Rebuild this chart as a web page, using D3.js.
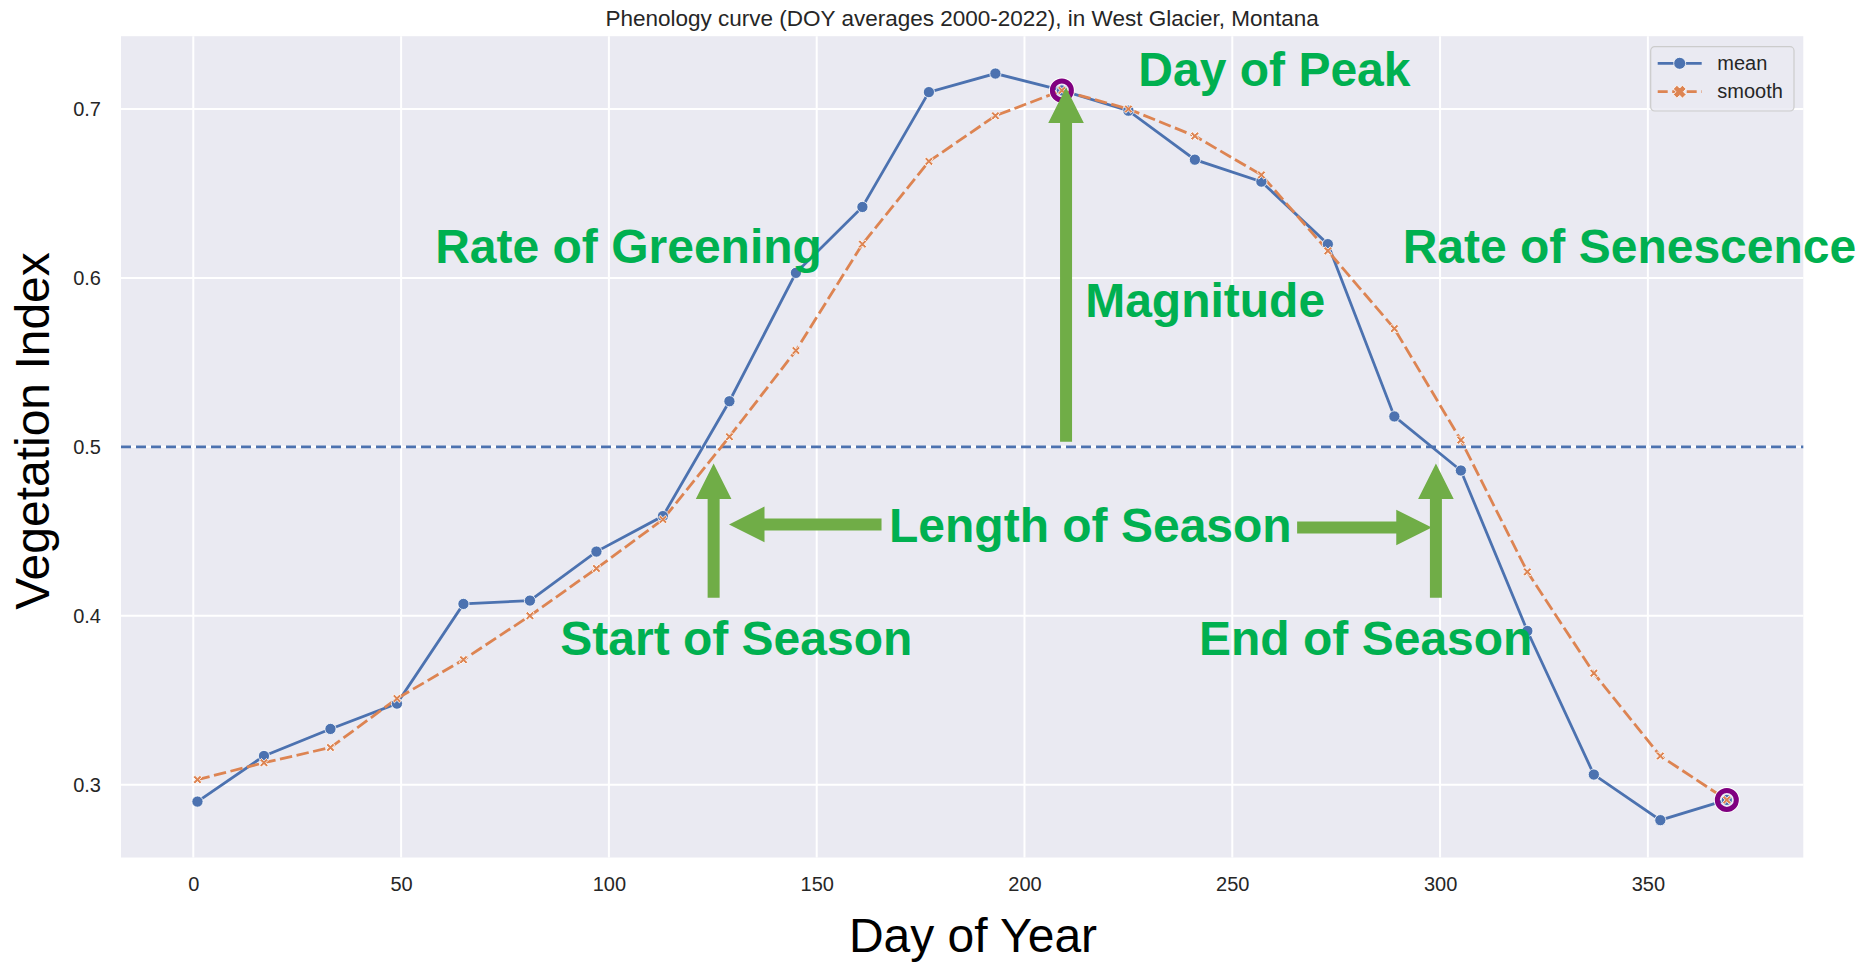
<!DOCTYPE html>
<html lang="en">
<head>
<meta charset="UTF-8">
<script src="https://d3js.org/d3.v7.min.js"></script>
<title>Phenology curve</title>
<style>
    body {
        margin: 0;
        overflow: hidden;
        background: white;
    }
    text {
        font-family: "Liberation Sans", Arial, sans-serif;
    }
</style>
</head>
<body>
<script>
    const width = 1862,
          height = 963;

    // values
    const doy = [1, 17, 33, 49, 65, 81, 97, 113, 129, 145, 161, 177,
                 193, 209, 225, 241, 257, 273, 289, 305, 321, 337, 353, 369];
    const meanValues = [0.290, 0.317, 0.333, 0.348, 0.407, 0.409, 0.438, 0.459,
                        0.527, 0.603, 0.642, 0.710, 0.721, 0.711, 0.699, 0.670,
                        0.657, 0.620, 0.518, 0.486, 0.391, 0.306, 0.279, 0.291];
    const smoothValues = [0.303, 0.313, 0.322, 0.351, 0.374, 0.400, 0.428, 0.457,
                          0.506, 0.557, 0.620, 0.669, 0.696, 0.711, 0.700, 0.684,
                          0.661, 0.616, 0.570, 0.504, 0.426, 0.366, 0.317, 0.291];
    const xTickValues = [0, 50, 100, 150, 200, 250, 300, 350];
    const yTickValues = [0.3, 0.4, 0.5, 0.6, 0.7];
    const threshold = 0.5;
    const highlightDays = [209, 369];
    const highlightValues = [0.711, 0.291];
    const seriesNames = ["mean", "smooth"];

    // phenology metrics: label, left x (DOY), baseline (index value)
    const labelText = ["Day of Peak", "Rate of Greening", "Magnitude", "Rate of Senescence",
                       "Length of Season", "Start of Season", "End of Season"];
    const labelDay = [227.4, 58.2, 214.6, 291, 167.4, 88.3, 242];
    const labelValue = [0.7134, 0.6086, 0.577, 0.6086, 0.4438, 0.3768, 0.3768];

    // block arrows: tail -> tip in (DOY, index)
    const arrowFrom = [[210, 0.503], [125.2, 0.4106], [299, 0.4106], [165.6, 0.4541], [265.6, 0.4523]];
    const arrowTo   = [[210, 0.7128], [125.2, 0.4901], [299, 0.4901], [128.9, 0.4541], [298, 0.4523]];

    const blue = "#4c72b0", orange = "#dd8452", green = "#70ad47", textGreen = "#00b050";

    const margin = { top: 36.2, left: 121, right: 58.7, bottom: 105.5 };

    const svg = d3.select('body')
        .append('svg')
        .attr('width', width)
        .attr('height', height);

    const xPad = (d3.max(doy) - d3.min(doy)) * 0.05;
    const x = d3.scaleLinear()
        .domain([d3.min(doy) - xPad, d3.max(doy) + xPad])
        .range([margin.left, width - margin.right]);

    const allVals = meanValues.concat(smoothValues);
    const yPad = (d3.max(allVals) - d3.min(allVals)) * 0.05;
    const y = d3.scaleLinear()
        .domain([d3.min(allVals) - yPad, d3.max(allVals) + yPad])
        .range([height - margin.bottom, margin.top]);

    // plot background
    svg.append('rect')
        .attr('x', margin.left)
        .attr('y', margin.top)
        .attr('width', width - margin.left - margin.right)
        .attr('height', height - margin.top - margin.bottom)
        .attr('fill', '#eaeaf2');

    // grid
    svg.append('g').selectAll('line')
        .data(xTickValues)
        .enter().append('line')
        .attr('x1', d => x(d)).attr('x2', d => x(d))
        .attr('y1', margin.top).attr('y2', height - margin.bottom)
        .attr('stroke', 'white').attr('stroke-width', 2);

    svg.append('g').selectAll('line')
        .data(yTickValues)
        .enter().append('line')
        .attr('x1', margin.left).attr('x2', width - margin.right)
        .attr('y1', d => y(d)).attr('y2', d => y(d))
        .attr('stroke', 'white').attr('stroke-width', 2);

    // axes (labels only)
    const xAxis = svg.append('g')
        .attr('transform', `translate(0, ${height - margin.bottom})`)
        .call(d3.axisBottom(x).tickValues(xTickValues).tickSize(0).tickPadding(19).tickFormat(d3.format('d')));
    const yAxis = svg.append('g')
        .attr('transform', `translate(${margin.left}, 0)`)
        .call(d3.axisLeft(y).tickValues(yTickValues).tickSize(0).tickPadding(20).tickFormat(d3.format('.1f')));
    [xAxis, yAxis].forEach(a => {
        a.select('.domain').remove();
        a.selectAll('.tick text')
            .attr('fill', '#262626')
            .style('font-size', '20px')
            .style('font-family', '"Liberation Sans", Arial, sans-serif');
    });

    // threshold line
    svg.append('line')
        .attr('x1', margin.left).attr('x2', width - margin.right)
        .attr('y1', y(threshold)).attr('y2', y(threshold))
        .attr('stroke', blue)
        .attr('stroke-width', 2.6)
        .attr('stroke-dasharray', '10,5');

    const points = doy.map((d, i) => ({ day: d, mean: meanValues[i], smooth: smoothValues[i] }));

    const meanLine = d3.line().x(d => x(d.day)).y(d => y(d.mean));
    const smoothLine = d3.line().x(d => x(d.day)).y(d => y(d.smooth));

    svg.append('path')
        .datum(points)
        .attr('d', meanLine)
        .attr('fill', 'none')
        .attr('stroke', blue)
        .attr('stroke-width', 2.8);

    svg.append('path')
        .datum(points)
        .attr('d', smoothLine)
        .attr('fill', 'none')
        .attr('stroke', orange)
        .attr('stroke-width', 2.8)
        .attr('stroke-dasharray', '12.5,4.5');

    // X marker shape (plus rotated by 45)
    const xMarker = (a, b) => {
        const p = [[b, a], [b, b], [a, b], [a, -b], [b, -b], [b, -a],
                   [-b, -a], [-b, -b], [-a, -b], [-a, b], [-b, b], [-b, a]];
        return 'M' + p.map(q => q.join(',')).join('L') + 'Z';
    };

    svg.append('g').selectAll('circle')
        .data(points)
        .enter().append('circle')
        .attr('cx', d => x(d.day))
        .attr('cy', d => y(d.mean))
        .attr('r', 5.6)
        .attr('fill', blue)
        .attr('stroke', 'white')
        .attr('stroke-width', 0.8);

    svg.append('g').selectAll('path')
        .data(points)
        .enter().append('path')
        .attr('d', xMarker(4.8, 1.3))
        .attr('transform', d => `translate(${x(d.day)},${y(d.smooth)}) rotate(45)`)
        .attr('fill', orange)
        .attr('stroke', 'white')
        .attr('stroke-width', 0.8);

    // highlighted peak / end points
    const rings = svg.append('g');
    highlightDays.forEach((d, i) => {
        rings.append('circle')
            .attr('cx', x(d)).attr('cy', y(highlightValues[i]))
            .attr('r', 12.3)
            .attr('fill', 'none')
            .attr('stroke', 'white')
            .attr('stroke-width', 1.2);
        rings.append('circle')
            .attr('cx', x(d)).attr('cy', y(highlightValues[i]))
            .attr('r', 9.5)
            .attr('fill', 'none')
            .attr('stroke', 'purple')
            .attr('stroke-width', 5);
    });

    // block arrows
    const blockArrow = (from, to) => {
        const x1 = x(from[0]), y1 = y(from[1]), x2 = x(to[0]), y2 = y(to[1]);
        const len = Math.hypot(x2 - x1, y2 - y1);
        const ux = (x2 - x1) / len, uy = (y2 - y1) / len;
        const nx = -uy, ny = ux;
        const sw = 6, hw = 17.8, hl = 35.5;
        const bx = x2 - ux * hl, by = y2 - uy * hl;
        const p = [
            [x1 + nx * sw, y1 + ny * sw],
            [bx + nx * sw, by + ny * sw],
            [bx + nx * hw, by + ny * hw],
            [x2, y2],
            [bx - nx * hw, by - ny * hw],
            [bx - nx * sw, by - ny * sw],
            [x1 - nx * sw, y1 - ny * sw]
        ];
        return 'M' + p.map(q => q.join(',')).join('L') + 'Z';
    };

    svg.append('g').selectAll('path')
        .data(arrowFrom)
        .enter().append('path')
        .attr('d', (d, i) => blockArrow(d, arrowTo[i]))
        .attr('fill', green);

    // metric labels
    svg.append('g').selectAll('text')
        .data(labelText)
        .enter().append('text')
        .attr('x', (d, i) => x(labelDay[i]))
        .attr('y', (d, i) => y(labelValue[i]))
        .attr('fill', textGreen)
        .style('font-size', '48px')
        .style('font-weight', 'bold')
        .text(d => d);

    // title and axis labels
    svg.append('text')
        .attr('x', (margin.left + width - margin.right) / 2)
        .attr('y', 26)
        .attr('text-anchor', 'middle')
        .attr('fill', '#262626')
        .style('font-size', '22.5px')
        .text('Phenology curve (DOY averages 2000-2022), in West Glacier, Montana');

    svg.append('text')
        .attr('x', 973)
        .attr('y', 952)
        .attr('text-anchor', 'middle')
        .attr('fill', 'black')
        .style('font-size', '48px')
        .text('Day of Year');

    svg.append('text')
        .attr('transform', 'translate(49, 431) rotate(-90)')
        .attr('text-anchor', 'middle')
        .attr('fill', 'black')
        .style('font-size', '48px')
        .text('Vegetation Index');

    // legend
    const lx = width - margin.right - 152.6,
          ly = margin.top + 10.5;
    const legend = svg.append('g').attr('transform', `translate(${lx}, ${ly})`);
    legend.append('rect')
        .attr('width', 143.3)
        .attr('height', 64.3)
        .attr('rx', 4)
        .attr('fill', '#eaeaf2')
        .attr('fill-opacity', 0.85)
        .attr('stroke', '#cccccc')
        .attr('stroke-width', 1.2);

    seriesNames.forEach((name, i) => {
        const cy = 16.6 + i * 28.4;
        legend.append('line')
            .attr('x1', 7).attr('x2', 51)
            .attr('y1', cy).attr('y2', cy)
            .attr('stroke', i === 0 ? blue : orange)
            .attr('stroke-width', 2.8)
            .attr('stroke-dasharray', i === 0 ? null : '10,4.5');
        if (i === 0) {
            legend.append('circle')
                .attr('cx', 29).attr('cy', cy).attr('r', 6)
                .attr('fill', blue).attr('stroke', 'white').attr('stroke-width', 0.8);
        } else {
            legend.append('path')
                .attr('d', xMarker(6.5, 2.6))
                .attr('transform', `translate(29,${cy}) rotate(45)`)
                .attr('fill', orange).attr('stroke', 'white').attr('stroke-width', 0.8);
        }
        legend.append('text')
            .attr('x', 66.6)
            .attr('y', cy + 6.8)
            .attr('fill', '#262626')
            .style('font-size', '20px')
            .text(name);
    });
</script>
</body>
</html>
